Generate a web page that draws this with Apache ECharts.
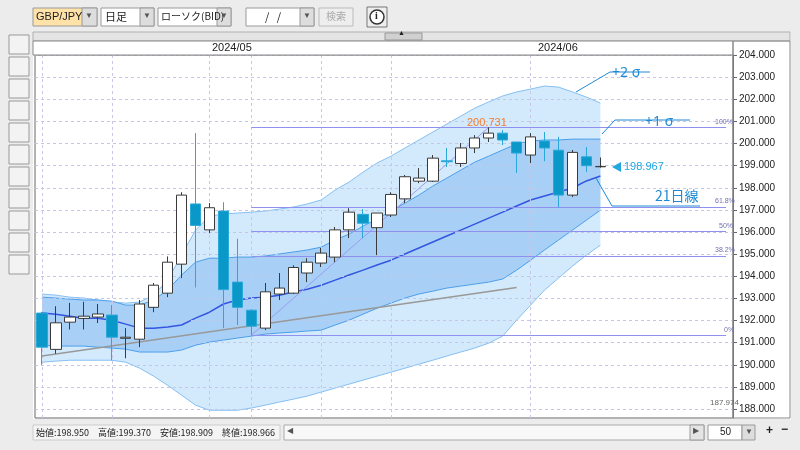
<!DOCTYPE html>
<html><head><meta charset="utf-8">
<script src="https://cdn.jsdelivr.net/npm/echarts@6/dist/echarts.min.js"></script>
<style>html,body{margin:0;padding:0;background:#fff}#c{width:800px;height:450px}</style>
</head><body><div id="c"></div>
<script>
// ---- data ----
const categories = Array.from({length:50},(_,i)=>'D'+(i+1));
// [open, close, low, high]
const ohlc = [
[192.34,190.80,190.00,192.40],[190.70,191.90,190.50,192.65],[191.93,192.16,191.60,192.80],[192.10,192.20,191.60,192.85],
[192.16,192.30,191.89,192.75],[192.25,191.25,190.20,192.70],[191.20,191.25,190.30,191.66],[191.16,192.75,190.80,192.93],
[192.60,193.60,192.38,193.70],[193.24,194.64,193.06,194.90],[194.55,197.67,193.92,197.80],[197.27,196.30,193.50,200.47],
[196.10,197.10,195.95,197.31],[196.95,193.40,191.66,197.35],[193.74,192.60,191.80,195.70],[192.47,191.75,191.34,192.52],
[191.66,193.30,191.57,193.70],[193.20,193.47,192.93,194.15],[193.24,194.40,193.20,194.50],[194.15,194.64,193.74,194.82],
[194.60,195.05,194.42,195.28],[194.87,196.10,194.64,196.23],[196.10,196.90,195.73,197.08],[196.80,196.40,195.73,197.04],
[196.20,196.86,194.96,196.86],[196.77,197.70,196.68,197.80],[197.50,198.50,197.31,198.58],[198.30,198.44,198.21,198.89],
[198.30,199.34,198.26,199.48],[199.22,199.18,198.94,199.80],[199.10,199.80,198.94,200.02],[199.80,200.25,199.57,200.38],
[200.25,200.47,200.07,200.731],[200.47,200.16,199.93,200.61],[200.07,199.57,198.67,200.07],[199.48,200.30,199.12,200.47],
[200.11,199.80,199.20,200.52],[199.70,197.67,197.13,200.30],[197.67,199.60,197.58,199.71],[199.40,199.00,198.71,199.84],
[198.950,198.966,198.909,199.370]
];
const ma21 = [192.34,192.29,192.20,192.11,192.11,192.02,191.84,191.66,191.66,191.71,191.80,192.11,192.38,192.75,192.93,193.02,193.06,193.15,193.29,193.42,193.60,193.83,194.06,194.28,194.51,194.73,195.01,195.28,195.55,195.82,196.09,196.36,196.63,196.90,197.18,197.45,197.63,197.81,197.99,198.31,198.53];
const upper1 = [193.06,193.02,192.97,192.93,192.93,192.88,192.70,192.70,192.93,193.38,194.06,194.64,194.82,194.82,194.87,194.87,194.92,195.01,195.10,195.19,195.32,195.64,195.91,196.27,196.59,196.95,197.31,197.67,198.08,198.44,198.80,199.16,199.43,199.71,199.98,200.11,200.16,200.16,200.20,200.20,200.20];
const lower1 = [190.89,190.85,190.85,190.85,190.80,190.76,190.71,190.58,190.58,190.58,190.67,190.89,191.03,191.12,191.21,191.30,191.39,191.44,191.48,191.53,191.57,191.80,192.02,192.29,192.56,192.79,193.02,193.20,193.33,193.47,193.56,193.65,193.74,193.88,194.28,194.73,195.19,195.64,196.09,196.54,196.99];
const upper2 = [193.20,193.15,193.06,193.02,192.93,192.84,192.79,192.84,193.15,193.83,194.96,196.09,196.72,196.81,196.86,196.90,196.95,197.04,197.13,197.27,197.45,197.90,198.26,198.71,199.12,199.43,199.80,200.16,200.52,200.88,201.24,201.60,201.88,202.15,202.33,202.46,202.60,202.55,202.33,202.10,201.83];
const lower2 = [190.12,190.17,190.21,190.21,190.21,190.21,190.12,189.85,189.49,189.08,188.63,188.18,187.95,187.95,187.95,188.05,188.18,188.32,188.45,188.59,188.77,188.95,189.13,189.31,189.49,189.67,189.85,190.03,190.21,190.40,190.58,190.76,190.98,191.30,192.02,192.70,193.38,193.92,194.46,194.96,195.41];
const yTicks = [188,189,190,191,192,193,194,195,196,197,198,199,200,201,202,203,204];
const fibLevels = [{v:200.731,t:'100%'},{v:197.14,t:'61.8%'},{v:196.04,t:'50%'},{v:194.92,t:'38.2%'},{v:191.34,t:'0%'}];
const fibStartIdx = 15;
const trendLine = [[0,190.40],[34,193.50]];
const weekLines = ['D1','D6','D13','D16','D21','D26','D36'];

const diff=(a,b)=>a.map((v,i)=>+(v-b[i]).toFixed(3));
const blue='#1e8ad6';
const chart = echarts.init(document.getElementById('c'));
const T=(x,y,text,o={})=>({type:'text',x,y,style:Object.assign({text,fill:'#222',font:'11px "Noto Sans CJK JP"'},o),z:100});
const R=(x,y,w,h,o={})=>({type:'rect',shape:{x,y,width:w,height:h},style:Object.assign({fill:'#fff',stroke:'#9a9a9a',lineWidth:1},o),z:90});
const L=(x1,y1,x2,y2,c)=>({type:'line',shape:{x1,y1,x2,y2},style:{stroke:c,lineWidth:1},z:100});

const graphic=[
 R(0,0,800,32,{fill:'#ececec',stroke:null}), R(0,0,33,450,{fill:'#ececec',stroke:null}),
 R(0,419,800,31,{fill:'#ececec',stroke:null}), R(791,0,9,450,{fill:'#ececec',stroke:null}),
 R(33,32,757,9,{fill:'#e4e4e4',stroke:'#b0b0b0'}), R(385,33,37,7,{fill:'#d0d0d0',stroke:'#999'}),
 T(398,30,'▲',{font:'7px sans-serif'}),
 R(33,41,700,14,{fill:'#fff',stroke:'#888'}), R(733,41,57,377,{fill:'none',stroke:'#888'}),
 T(212,42,'2024/05',{font:'11px "Liberation Sans"'}), T(538,42,'2024/06',{font:'11px "Liberation Sans"'}),
 R(33,8,64,18,{fill:'#ffe2a8'}), T(36,11,'GBP/JPY',{font:'11px "Liberation Sans"'}), R(82,8,15,18,{fill:'#ddd'}), T(85,12,'▼',{font:'8px sans-serif',fill:'#555'}),
 R(101,8,53,18), T(105,11,'日足'), R(140,8,14,18,{fill:'#ddd'}), T(143,12,'▼',{font:'8px sans-serif',fill:'#555'}),
 R(158,8,73,18), T(161,11,'ローソク(BID)',{font:'10px "Noto Sans CJK JP"'}), R(217,8,14,18,{fill:'#ddd'}), T(220,12,'▼',{font:'8px sans-serif',fill:'#555'}),
 R(246,8,68,18), T(265,11,'/   /'), R(300,8,14,18,{fill:'#ddd'}), T(303,12,'▼',{font:'8px sans-serif',fill:'#555'}),
 R(319,8,34,18,{fill:'#eee',stroke:'#bbb'}), T(326,11,'検索',{fill:'#aaa',font:'10px "Noto Sans CJK JP"'}),
 R(367,7,20,20,{fill:'#eee',stroke:'#777'}), {type:'circle',shape:{cx:377,cy:17,r:7},style:{fill:'#fff',stroke:'#333',lineWidth:1.5},z:100}, T(375,11,'i',{font:'bold 10px "Liberation Serif"'}),
 R(33,425,247,15,{fill:'#f4f4f4',stroke:'#ccc'}),
 T(36,428,'始値:198.950　高値:199.370　安値:198.909　終値:198.966',{font:'9px "Noto Sans CJK JP"'}),
 R(284,425,420,15,{fill:'#f8f8f8',stroke:'#aaa'}), T(287,427,'◀',{font:'8px sans-serif',fill:'#555'}), R(690,425,14,15,{fill:'#e4e4e4'}), T(693,427,'▶',{font:'8px sans-serif',fill:'#555'}),
 R(708,425,34,15), T(720,427,'50',{font:'10px "Liberation Sans"'}), R(742,425,13,15,{fill:'#ddd'}), T(745,428,'▼',{font:'8px sans-serif',fill:'#555'}),
 T(766,425,'+',{font:'bold 12px sans-serif'}), T(781,424,'−',{font:'bold 12px sans-serif'}),
 T(612,66,'+2 σ',{fill:blue,font:'14px "Noto Sans"'}), L(610,72,650,72,blue), L(610,72,576,92,blue),
 T(645,115,'+1 σ',{fill:blue,font:'14px "Noto Sans"'}), L(615,120,690,120,blue), L(615,120,602,134,blue),
 T(655,189,'21日線',{fill:blue,font:'14px "Noto Sans CJK JP"'}), L(612,206,700,206,blue), L(612,206,596,178,blue),
 {type:'polygon',shape:{points:[[612,167],[621,162],[621,172]]},style:{fill:'#22a8e0'},z:100},
 T(624,161,'198.967',{fill:'#22a8e0',font:'11px "Liberation Sans"'}),
 T(467,117,'200.731',{fill:'#f07f30',font:'11px "Liberation Sans"'}),
 T(710,399,'187.974',{fill:'#666',font:'8px "Liberation Sans"'}),
 ...fibLevels.map(f=>T(f.t.length>3?715:(f.t.length>2?719:724),0,f.t,{fill:'#7070b0',font:'7px "Liberation Sans"'}))
];
for(let i=0;i<11;i++){graphic.push(R(9,35+i*22,20,19,{fill:'#f3f3f3',stroke:'#999'}));}

const pad=a=>a.concat(Array(50-a.length).fill('-'));
const option={
 animation:false,
 backgroundColor:'#fff',
 graphic,
 grid:{left:35,right:67,top:55,bottom:32,show:true,backgroundColor:'#fff',borderColor:'#666'},
 xAxis:{type:'category',data:categories,boundaryGap:true,axisLine:{show:false},axisTick:{show:false},axisLabel:{show:false},splitLine:{show:false}},
 yAxis:{type:'value',position:'right',min:187.6,max:204,scale:true,
   axisLine:{show:true,lineStyle:{color:'#666'}},axisTick:{show:true,customValues:yTicks,length:4,lineStyle:{color:'#666'}},
   axisLabel:{customValues:yTicks,formatter:v=>v.toFixed(3),color:'#222',fontSize:10,fontFamily:'Liberation Sans',margin:6},splitLine:{show:false}},
 series:[
  {type:'line',data:[],silent:true,z:1,markLine:{silent:true,symbol:'none',label:{show:false},
    lineStyle:{color:'#c6c6e6',type:[3,3],width:1},
    data:[...yTicks.map(v=>({yAxis:v})),...weekLines.map(c=>({xAxis:c}))]}},
  {name:'lo2',type:'line',z:2,data:pad(lower2),stack:'o',symbol:'none',lineStyle:{color:'#86c0f2',width:1}},
  {name:'o',type:'line',z:2,data:pad(diff(upper2,lower2)),stack:'o',symbol:'none',lineStyle:{color:'#86c0f2',width:1},areaStyle:{color:'#d3e9fc',opacity:1}},
  {name:'lo1',type:'line',z:3,data:pad(lower1),stack:'i',symbol:'none',lineStyle:{color:'#4d9fea',width:1}},
  {name:'i',type:'line',z:3,data:pad(diff(upper1,lower1)),stack:'i',symbol:'none',lineStyle:{color:'#4d9fea',width:1},areaStyle:{color:'#a8d0f6',opacity:1}},
  {name:'ma',type:'line',z:4,data:pad(ma21),symbol:'none',lineStyle:{color:'#3355e0',width:1.5},
    markLine:{silent:true,symbol:'none',label:{show:false},data:[
      [{coord:trendLine[0]},{coord:trendLine[1],lineStyle:{color:'#999',width:1.5,type:'solid'}}],
      [{coord:[fibStartIdx,fibLevels[4].v]},{coord:[32,fibLevels[0].v],lineStyle:{color:'#9c9cf2',width:1,type:'solid'}}],
      ...fibLevels.map(f=>[{coord:[fibStartIdx,f.v]},{coord:[49,f.v],lineStyle:{color:'#9090ee',width:1,type:'solid'}}])
    ]}},
  {type:'candlestick',z:10,data:ohlc,barWidth:11,
   itemStyle:{color:'#ffffff',color0:'#0a98c8',borderColor:'#3a3a3a',borderColor0:'#2aa8d8',borderWidth:1}}
 ]
};
chart.setOption(option);
const g=option.graphic;
let k=0;
g.forEach(e=>{ if(e.style&&/%$/.test(e.style.text)){ const f=fibLevels[k++]; e.y=chart.convertToPixel({yAxisIndex:0},f.v)-9; } });
chart.setOption({graphic:g});
</script></body></html>
